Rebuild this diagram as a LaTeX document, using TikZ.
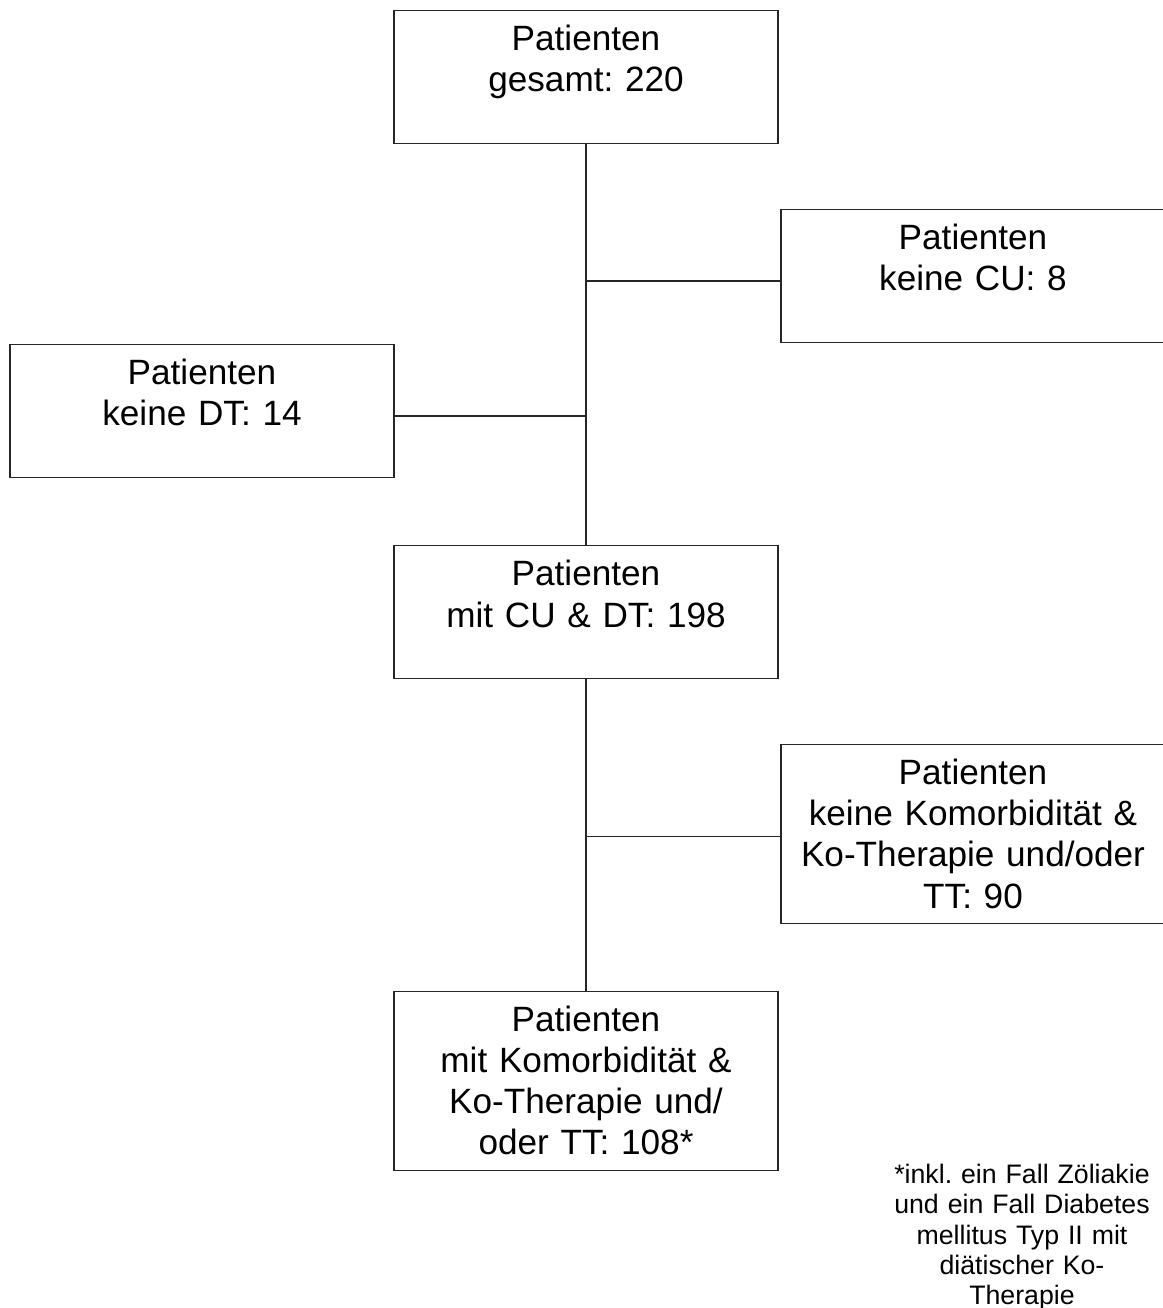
\documentclass[tikz,border=0pt]{standalone}
\usepackage{fontspec}
\setmainfont{Liberation Sans}
\usetikzlibrary{positioning}
\frenchspacing

\begin{document}
\begin{tikzpicture}[
  x=0.025cm, y=-0.025cm,
  kasten/.style={draw=black!85,line width=0.8pt,anchor=north,align=center,
    inner xsep=0pt,inner ysep=0pt,text width=9.6cm,text height=1cm,
    font=\fontsize{25}{29.3}\selectfont},
  zwei/.style={kasten,text depth=2.325cm},
  vier/.style={kasten,text depth=3.475cm},
  fuss/.style={anchor=north,align=center,inner sep=0pt,text width=7.5cm,
    text height=0.5cm,font=\fontsize{19}{21.6}\selectfont},
  linie/.style={draw=black!85,line width=0.8pt}
]
\useasboundingbox (0,0) rectangle (1163,1308);

\node[zwei] (gesamt) at (586,10) {Patienten\\ gesamt: 220};
\node[zwei,below=10.025cm of gesamt] (cudt) {Patienten\\ mit CU \& DT: 198};
\node[vier,below=7.775cm of cudt] (komor) {Patienten\\ mit Komorbidität \&\\ Ko-Therapie und/\\ oder TT: 108*};

\node[zwei] (keinecu) at (973,209) {Patienten\\ keine CU: 8};
\node[zwei] (keinedt) at (202,344) {Patienten\\ keine DT: 14};
\node[vier] (keinekomor) at (973,744) {Patienten\\ keine Komorbidität \&\\ Ko-Therapie und/oder\\ TT: 90};

\node[fuss] (fussnote) at (1022,1163) {*inkl. ein Fall Zöliakie\\ und ein Fall Diabetes\\ mellitus Typ II mit\\ diätischer Ko-\\ Therapie};

\draw[linie] (gesamt) -- (cudt);
\draw[linie] (cudt) -- (komor);
\draw[linie] ([yshift=-3.5pt]keinecu.west) -- ([yshift=-3.5pt]keinecu.west -| gesamt.south);
\draw[linie] ([yshift=-3.5pt]keinedt.east) -- ([yshift=-3.5pt]keinedt.east -| gesamt.south);
\draw[linie] ([yshift=-2pt]keinekomor.west) -- ([yshift=-2pt]keinekomor.west -| cudt.south);
\end{tikzpicture}
\end{document}
